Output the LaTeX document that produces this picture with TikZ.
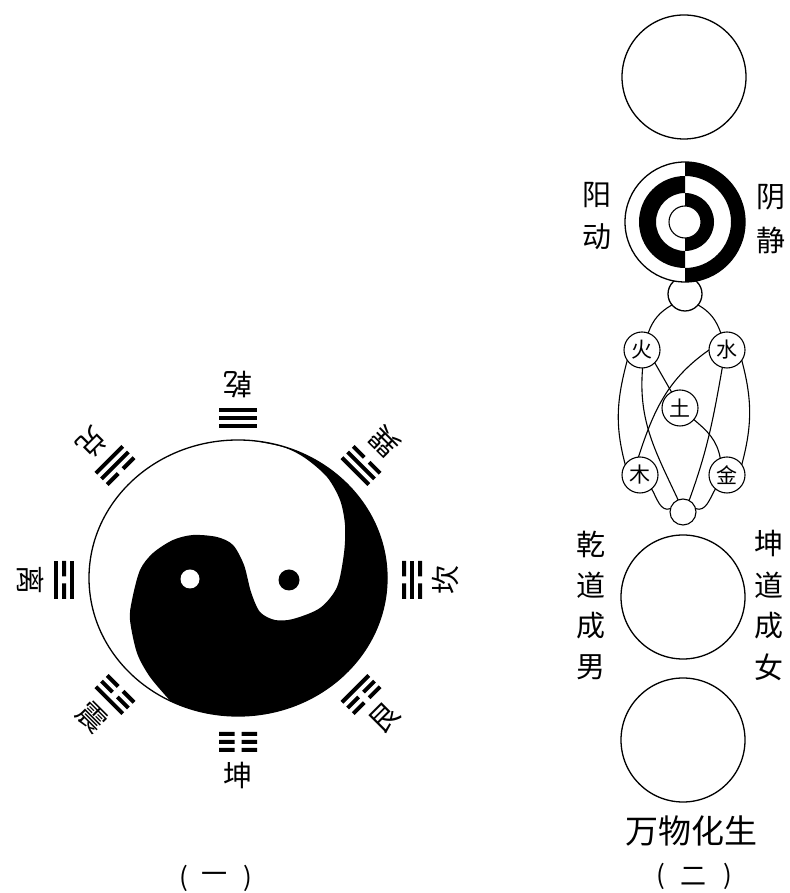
\documentclass[tikz,border=0pt]{standalone}
\usepackage{fontspec}
\newfontfamily\cjk{Noto Sans CJK SC}
\newcommand\yangL[1]{\fill (-19,#1-2) rectangle (19,#1+2);}
\newcommand\yinL[1]{\fill (-19,#1-2) rectangle (-3.5,#1+2) (3.5,#1-2) rectangle (19,#1+2);}
\begin{document}
\begin{tikzpicture}[x=1pt,y=1pt,
  lw/.style={line width=1.3pt},
  ch/.style={font=\cjk\fontsize{29}{29}\selectfont, inner sep=0pt},
  el/.style={circle, draw, line width=1.1pt, minimum size=36pt, inner sep=0pt, outer sep=0pt, font=\cjk\fontsize{21}{21}\selectfont, fill=white},
  big/.style={circle, draw, line width=1.3pt, minimum size=124pt, inner sep=0pt, outer sep=0pt},
  conn/.style={line width=1.1pt}]
\useasboundingbox (0,0) rectangle (789,893);

% ---------- Taiji (figure 1) ----------
\fill (250.99,452.47) arc[start angle=85,end angle=-117,x radius=149,y radius=138]
  -- plot[smooth] coordinates {(170.36,192.04) (150,216) (137,240) (130,273) (132,293) (140,323)
     (153,340) (173,353) (193,358) (217,356) (233,348) (244,328) (251,301) (260,281)
     (275,273) (293,274) (320,285) (337,306) (344,340) (345,368) (340,393) (327,416)
     (305,435) (283,446) (250.99,452.47)} -- cycle;
\draw[lw] (238,315) ellipse [x radius=149, y radius=138];
\fill[white] (190,314) circle[radius=9.5];
\fill (289,313) circle[radius=10.5];

\foreach \t/\a/\b/\c/\ch in {90/\yangL/\yangL/\yangL/乾, 270/\yinL/\yinL/\yinL/坤,
   0/\yinL/\yangL/\yinL/坎, 180/\yangL/\yinL/\yangL/离, 135/\yinL/\yangL/\yangL/兑,
   45/\yangL/\yangL/\yinL/巽, 225/\yinL/\yinL/\yangL/震, 315/\yangL/\yinL/\yinL/艮}{
  \begin{scope}[shift={({238+174*cos(\t)},{313+162*sin(\t)})}, rotate=\t+90]
    \a{8} \b{0} \c{-8}
    \node[ch, rotate=\t+90] (g\t) at (0,-33) {\ch};
  \end{scope}
}
\node[ch, font=\cjk\fontsize{26}{26}\selectfont] (p1l) at (184,15) {(};
\node[ch, font=\cjk\fontsize{26}{26}\selectfont] (p1m) at (214,15) {一};
\node[ch, font=\cjk\fontsize{26}{26}\selectfont] (p1r) at (248,15) {)};

% ---------- Column (figure 2) ----------
\node[big] (c1) at (684,816) {};
\node[circle, draw, lw, minimum size=34pt, inner sep=0pt, outer sep=0pt] (sm) at (685,599) {};
\node[circle, draw, lw, fill=white, minimum size=120pt, inner sep=0pt, outer sep=0pt] (c2) at (685,671) {};
\fill (685,731) arc[start angle=90,end angle=-90,radius=60] -- (685,625) arc[start angle=-90,end angle=90,radius=46] -- cycle;
\fill (685,717) arc[start angle=90,end angle=270,radius=46] -- (685,642) arc[start angle=270,end angle=90,radius=29] -- cycle;
\fill (685,700) arc[start angle=90,end angle=-90,radius=29] -- (685,655) arc[start angle=-90,end angle=90,radius=16] -- cycle;
\node[circle, draw, line width=1.1pt, fill=white, minimum size=32pt, inner sep=0pt, outer sep=0pt] (c2i) at (685,671) {};

\node[ch] (yang) at (597,698) {阳};
\node[ch] (dong) at (597,656) {动};
\node[ch] (yin) at (771,696) {阴};
\node[ch] (jing) at (771,653) {静};

\node[el] (huo) at (642,543) {火};
\node[el] (shui) at (727,543) {水};
\node[el] (tu) at (680,485) {土};
\node[el] (mu) at (640,418) {木};
\node[el] (jin) at (727,418) {金};
\node[circle, draw, conn, minimum size=26pt, inner sep=0pt, outer sep=0pt] (di) at (683,381) {};

\draw[conn] (huo.70) to[out=70,in=210] (sm.220);
\draw[conn] (shui.110) to[out=110,in=-30] (sm.-40);
\draw[conn] (huo.215) to[out=255,in=105] (mu.145);
\draw[conn] (shui.-35) to[out=-75,in=75] (jin.35);
\draw[conn] (huo.-88) to[out=-95,in=115] (di.112);
\draw[conn] (huo.-45) -- (tu.118);
\draw[conn] (shui.180) to[out=215,in=72] (mu.95);
\draw[conn] (shui.-105) to[out=-100,in=70] (di.62);
\draw[conn] (tu.-40) to[out=-40,in=100] (jin.112);
\draw[conn] (mu.-50) to[out=-60,in=200] (di.165);
\draw[conn] (jin.-130) to[out=-120,in=-20] (di.15);

\node[big] (c3) at (683,296) {};
\node[big] (c4) at (683,153) {};

\foreach \c [count=\i] in {乾,道,成,男} \node[ch] (l\i) at (591,{390-41*\i}) {\c};
\foreach \c [count=\i] in {坤,道,成,女} \node[ch] (r\i) at (769,{390-41*\i}) {\c};

\node[ch, font=\cjk\fontsize{33}{33}\selectfont] (wan) at (691,62) {万物化生};
\node[ch, font=\cjk\fontsize{26}{26}\selectfont] (p2l) at (661,17) {(};
\node[ch, font=\cjk\fontsize{26}{26}\selectfont] (p2m) at (693,17) {二};
\node[ch, font=\cjk\fontsize{26}{26}\selectfont] (p2r) at (728,17) {)};
\end{tikzpicture}
\end{document}
